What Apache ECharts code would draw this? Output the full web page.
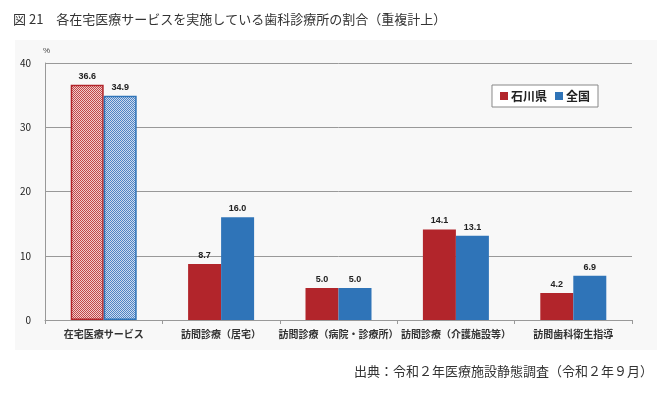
<!DOCTYPE html>
<html>
<head>
<meta charset="utf-8">
<script src="https://cdn.jsdelivr.net/npm/echarts@6/dist/echarts.min.js"></script>
<style>
  html, body { margin: 0; padding: 0; background: #fff; }
  #chart { width: 670px; height: 397px; }
</style>
</head>
<body>
<div id="chart"></div>
<script>
// 調査項目
const categories = [
  "在宅医療サービス",
  "訪問診療（居宅）",
  "訪問診療（病院・診療所）",
  "訪問診療（介護施設等）",
  "訪問歯科衛生指導"
];
const ishikawa = [36.6, 8.7, 5.0, 14.1, 4.2];
const zenkoku = [34.9, 16.0, 5.0, 13.1, 6.9];

const RED = "#b2252b";
const BLUE = "#2f74b8";
const FONT = '"Noto Sans CJK JP", "Noto Sans", sans-serif';

// 在宅医療サービスだけ網掛け
function hatch(dark, light) {
  const c = document.createElement("canvas");
  c.width = 2;
  c.height = 2;
  const ctx = c.getContext("2d");
  ctx.fillStyle = light;
  ctx.fillRect(0, 0, 2, 2);
  ctx.fillStyle = dark;
  ctx.fillRect(0, 0, 1, 1);
  ctx.fillRect(1, 1, 1, 1);
  return { image: c, repeat: "repeat" };
}

function toData(values, color, dark, light) {
  return values.map((v, i) => i === 0
    ? { value: v, itemStyle: { color: hatch(dark, light), borderColor: color, borderWidth: 1.5 } }
    : { value: v });
}

const chart = echarts.init(document.getElementById("chart"));
chart.setOption({
  animation: false,
  backgroundColor: "#fff",
  graphic: [
    { type: "rect", left: 15, top: 40, shape: { width: 642, height: 310 }, style: { fill: "#f8f8f8" }, z: -10 }
  ],
  title: [
    {
      text: "図 21　各在宅医療サービスを実施している歯科診療所の割合（重複計上）",
      left: 8, top: 8,
      textStyle: { fontSize: 13, fontWeight: "normal", color: "#333", fontFamily: FONT }
    },
    {
      text: "出典：令和２年医療施設静態調査（令和２年９月）",
      right: 12, top: 360,
      textStyle: { fontSize: 13, fontWeight: "normal", color: "#333", fontFamily: FONT }
    }
  ],
  legend: {
    right: 72, top: 85,
    itemWidth: 8, itemHeight: 8, itemGap: 8,
    padding: [5, 8],
    borderColor: "#888", borderWidth: 1, backgroundColor: "#fff",
    textStyle: { fontSize: 12, fontWeight: "bold", color: "#222", fontFamily: FONT, padding: [0, 0, 0, -2] },
    data: [
      { name: "石川県", icon: "rect" },
      { name: "全国", icon: "rect" }
    ]
  },
  grid: { left: 45, right: 38, top: 63, bottom: 77 },
  xAxis: {
    type: "category",
    data: categories,
    axisLine: { lineStyle: { color: "#999" } },
    axisTick: { show: true, length: 4, lineStyle: { color: "#999" } },
    axisLabel: { fontSize: 10, fontWeight: "bold", color: "#333", margin: 9, fontFamily: FONT, interval: 0 }
  },
  yAxis: {
    type: "value",
    min: 0, max: 40, interval: 10,
    name: "%",
    nameGap: 8,
    nameTextStyle: { fontSize: 8, color: "#444", align: "left", padding: [0, 0, 0, -2] },
    axisLine: { show: true, lineStyle: { color: "#999" } },
    axisTick: { show: false },
    splitLine: { lineStyle: { color: "#999" } },
    axisLabel: { fontSize: 10, color: "#222", margin: 14, fontFamily: FONT }
  },
  series: [
    {
      name: "石川県", type: "bar",
      data: toData(ishikawa, RED, "#c04848", "#f2cccc"),
      itemStyle: { color: RED },
      barWidth: 33, barGap: "0%",
      label: { show: true, position: "top", formatter: p => p.value.toFixed(1), fontSize: 9, fontWeight: "bold", color: "#222", distance: 4 }
    },
    {
      name: "全国", type: "bar",
      data: toData(zenkoku, BLUE, "#4f84c4", "#cddbef"),
      itemStyle: { color: BLUE },
      barWidth: 33,
      label: { show: true, position: "top", formatter: p => p.value.toFixed(1), fontSize: 9, fontWeight: "bold", color: "#222", distance: 4 }
    }
  ]
});
</script>
</body>
</html>
